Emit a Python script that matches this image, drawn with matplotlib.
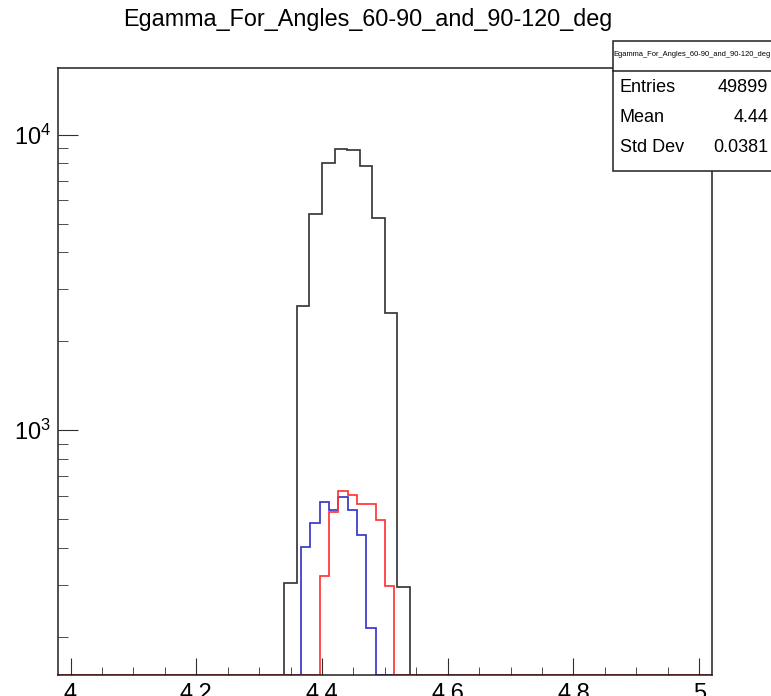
import matplotlib
matplotlib.use('Agg')
import matplotlib.pyplot as plt
import numpy as np
from matplotlib.patches import Rectangle
from matplotlib.ticker import FixedLocator, LogLocator, NullFormatter, MultipleLocator

plt.rcParams['font.family'] = ['Liberation Sans', 'DejaVu Sans']
plt.rcParams['mathtext.fontset'] = 'custom'
plt.rcParams['mathtext.rm'] = 'Liberation Sans'
plt.rcParams['mathtext.it'] = 'Liberation Sans:italic'

# histogram range shared by all three histograms
x_min, x_max = 3.98, 5.02

# black: 52 bins of 0.02, non-empty bins start at 4.34
black_nbins = 52
black_first = 4.34
black_counts = [304, 2630, 5400, 8000, 8925, 8875, 7820, 5225, 2490, 294]

# blue and red: 70 bins, non-empty bins given by first bin index
fine_nbins = 70
blue_first_bin = 26
blue_counts = [401, 483, 573, 536, 592, 536, 440, 214]
red_first_bin = 28
red_counts = [320, 530, 623, 604, 560, 562, 496, 296]

title = 'Egamma_For_Angles_60-90_and_90-120_deg'
stats = [('Entries', '49899'), ('Mean', '4.44'), ('Std Dev', '0.0381')]
x_ticks = [4.0, 4.2, 4.4, 4.6, 4.8, 5.0]
x_labels = ['4', '4.2', '4.4', '4.6', '4.8', '5']

y_lo, y_hi = 148, 16900


def full_hist(nbins, first, counts):
    vals = np.zeros(nbins)
    vals[first:first + len(counts)] = counts
    # empty bins are drawn along the bottom of the frame, as ROOT does
    return np.where(vals > 0, vals, y_lo)


fig = plt.figure(figsize=(7.71, 6.96), dpi=100)
ax = fig.add_axes([0.0752, 0.030, 0.848, 0.873])

black_edges = np.linspace(x_min, x_max, black_nbins + 1)
fine_edges = np.linspace(x_min, x_max, fine_nbins + 1)
black_idx = int(round((black_first - x_min) / ((x_max - x_min) / black_nbins)))

ax.stairs(full_hist(black_nbins, black_idx, black_counts), black_edges,
          baseline=None, color='#383838', lw=1.25)
ax.stairs(full_hist(fine_nbins, blue_first_bin, blue_counts), fine_edges,
          baseline=None, color='#3838c8', lw=1.25)
ax.stairs(full_hist(fine_nbins, red_first_bin, red_counts), fine_edges,
          baseline=None, color='#ff3535', lw=1.25)

ax.set_yscale('log')
ax.set_xlim(x_min, x_max)
ax.set_ylim(y_lo, y_hi)

ax.xaxis.set_major_locator(FixedLocator(x_ticks))
ax.set_xticklabels(x_labels)
ax.xaxis.set_minor_locator(MultipleLocator(0.05))
ax.yaxis.set_major_locator(FixedLocator([1e3, 1e4]))
ax.yaxis.set_minor_locator(LogLocator(base=10, subs=np.arange(2, 10)))
ax.yaxis.set_minor_formatter(NullFormatter())

ax.tick_params(axis='both', which='both', direction='in', labelsize=17,
               top=False, right=False, color='#303030')
ax.tick_params(axis='x', which='major', length=12, pad=6)
ax.tick_params(axis='x', which='minor', length=6)
ax.tick_params(axis='y', which='major', length=14.5, pad=5)
ax.tick_params(axis='y', which='minor', length=7.2)
for s in ax.spines.values():
    s.set_linewidth(1.1)
    s.set_color('#202020')

fig.text(0.4767, 0.972, title, ha='center', va='center', fontsize=16.8)

# statistics box in the top right corner
box_l, box_b, box_t, box_sep = 0.7955, 0.7547, 0.941, 0.8984
fig.add_artist(Rectangle((box_l, box_b), 1.05 - box_l, box_t - box_b,
                         transform=fig.transFigure, fill=True,
                         facecolor='white', edgecolor='#202020', lw=1.1))
fig.add_artist(plt.Line2D([box_l, 1.05], [box_sep, box_sep],
                          transform=fig.transFigure, color='#202020', lw=1.1))
fig.text(0.897, 0.9215, title, ha='center', va='center', fontsize=5.4)
for i, (name, val) in enumerate(stats):
    y = 0.8745 - i * 0.0431
    fig.text(0.804, y, name, ha='left', va='center', fontsize=13)
    fig.text(0.9965, y, val, ha='right', va='center', fontsize=13)

fig.savefig('out.png', dpi=100)
